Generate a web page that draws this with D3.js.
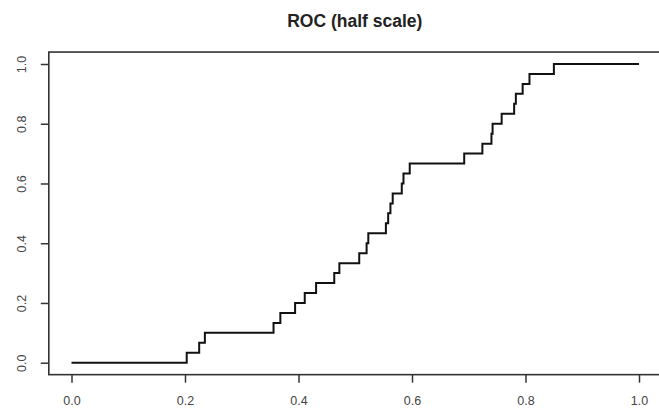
<!DOCTYPE html>
<html>
<head>
<meta charset="utf-8">
<script src="https://cdn.jsdelivr.net/npm/d3@7"></script>
<style>
  html, body { margin: 0; padding: 0; background: #fff; }
  svg { display: block; }
</style>
</head>
<body>
<svg id="chart" width="659" height="413"></svg>
<script>
// ROC curve: false positive rate (x) where each step rises, and the true positive rate reached there
const fpr = [0, 0.203, 0.225, 0.235, 0.356, 0.368, 0.394, 0.411, 0.431, 0.463, 0.472,
             0.507, 0.520, 0.523, 0.554, 0.558, 0.562, 0.566, 0.582, 0.585, 0.596,
             0.692, 0.724, 0.740, 0.742, 0.758, 0.780, 0.783, 0.795, 0.807, 0.850, 1.0];
const tpr = [0, 0.0333, 0.0667, 0.1, 0.1333, 0.1667, 0.2, 0.2333, 0.2667, 0.3, 0.3333,
             0.3667, 0.4, 0.4333, 0.4667, 0.5, 0.5333, 0.5667, 0.6, 0.6333, 0.6667,
             0.7, 0.7333, 0.7667, 0.8, 0.8333, 0.8667, 0.9, 0.9333, 0.9667, 1.0, 1.0];

const xTicks = [0, 0.2, 0.4, 0.6, 0.8, 1.0];
const yTicks = [0, 0.2, 0.4, 0.6, 0.8, 1.0];
const titleText = "ROC (half scale)";

const svg = d3.select("#chart");
const font = "'Liberation Sans', Arial, Helvetica, sans-serif";

// data range mapped to pixels; plot box extends 4% beyond on each side
const x = d3.scaleLinear().domain([0, 1]).range([71.5, 639]);
const y = d3.scaleLinear().domain([0, 1]).range([362.7, 64]);
const pad = 0.04;
const box = {
  left: x(-pad), right: x(1 + pad),
  top: y(1 + pad), bottom: y(-pad)
};

// title
svg.append("text")
  .attr("x", (box.left + box.right) / 2 - 0.5)
  .attr("y", 26.5)
  .attr("text-anchor", "middle")
  .attr("font-family", font)
  .attr("font-weight", "bold")
  .attr("font-size", 17.5)
  .attr("fill", "#222")
  .text(titleText);

// step curve
const pts = fpr.map((v, i) => [v, tpr[i]]);
svg.append("path")
  .datum(pts)
  .attr("fill", "none")
  .attr("stroke", "#111")
  .attr("stroke-width", 2)
  .attr("stroke-linejoin", "miter")
  .attr("d", d3.line().x(d => x(d[0])).y(d => y(d[1])).curve(d3.curveStepAfter));

// plot frame
svg.append("rect")
  .attr("x", box.left)
  .attr("y", box.top)
  .attr("width", box.right - box.left)
  .attr("height", box.bottom - box.top)
  .attr("fill", "none")
  .attr("stroke", "#333")
  .attr("stroke-width", 1.6);

// bottom axis
const gx = svg.append("g")
  .attr("transform", `translate(0,${box.bottom})`)
  .call(d3.axisBottom(x).tickValues(xTicks).tickSize(8).tickSizeOuter(0)
    .tickPadding(13).tickFormat(d3.format(".1f")));
gx.select(".domain").remove();
gx.selectAll(".tick line").attr("stroke", "#333").attr("stroke-width", 1.5);
gx.selectAll(".tick text")
  .attr("font-family", font)
  .attr("font-size", 12.5)
  .attr("fill", "#444");

// left axis, labels parallel to the axis
const gy = svg.append("g")
  .attr("transform", `translate(${box.left},0)`)
  .call(d3.axisLeft(y).tickValues(yTicks).tickSize(8).tickSizeOuter(0)
    .tickFormat(d3.format(".1f")));
gy.select(".domain").remove();
gy.selectAll(".tick line").attr("stroke", "#333").attr("stroke-width", 1.5);
gy.selectAll(".tick text")
  .attr("transform", "rotate(-90)")
  .attr("x", 0)
  .attr("y", -(box.left - 26))
  .attr("dy", 0)
  .attr("text-anchor", "middle")
  .attr("font-family", font)
  .attr("font-size", 12.5)
  .attr("fill", "#444");
</script>
</body>
</html>
